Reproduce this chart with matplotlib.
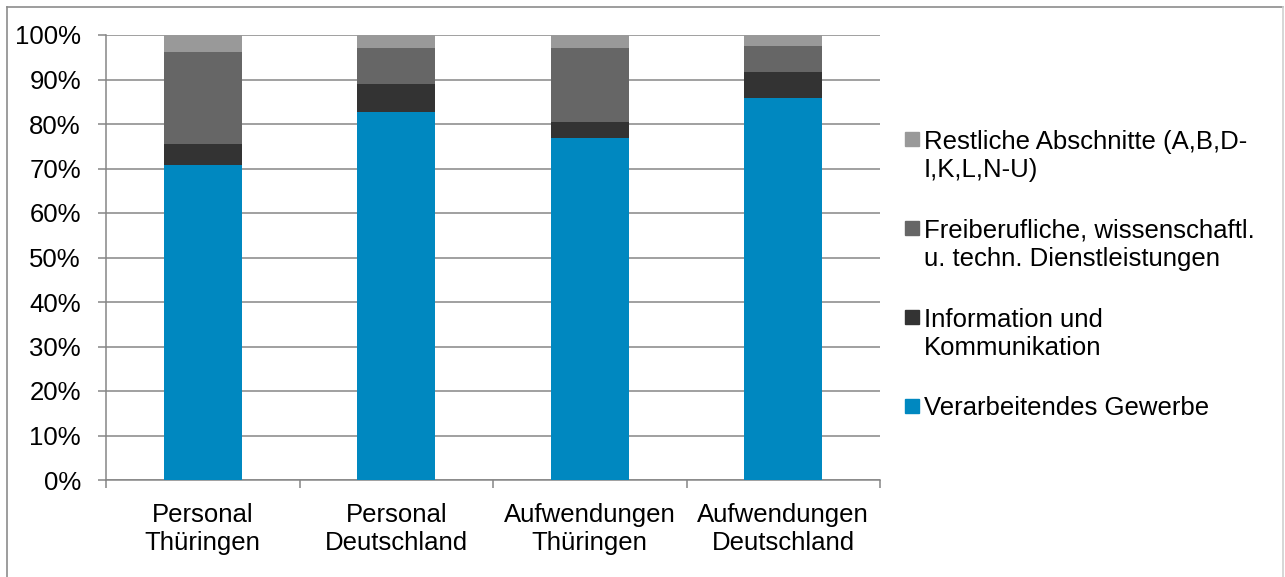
import numpy as np
import matplotlib.pyplot as plt
from matplotlib.patches import Rectangle
from matplotlib.lines import Line2D

plt.rcParams['font.family'] = ['Liberation Sans', 'DejaVu Sans']

categories = ['Personal\nThüringen', 'Personal\nDeutschland',
              'Aufwendungen\nThüringen', 'Aufwendungen\nDeutschland']
series_names = ['Verarbeitendes Gewerbe',
                'Information und\nKommunikation',
                'Freiberufliche, wissenschaftl.\nu. techn. Dienstleistungen',
                'Restliche Abschnitte (A,B,D-\nI,K,L,N-U)']
verarbeitendes = [70.7, 82.6, 76.8, 85.8]
information = [4.7, 6.3, 3.6, 5.9]
freiberufliche = [20.8, 8.2, 16.7, 5.8]
restliche = [3.8, 2.9, 2.9, 2.5]
colors = ['#0088c0', '#333333', '#666666', '#999999']

W, H = 1285, 577
fig = plt.figure(figsize=(W / 100, H / 100), dpi=100)
ax = fig.add_axes([106 / W, 1 - 480 / H, 774 / W, 445 / H])

fs = 18.5
grey = '#868686'
x = np.arange(len(categories))
bottom = np.zeros(len(categories))
for vals, c in zip([verarbeitendes, information, freiberufliche, restliche], colors):
    ax.bar(x, vals, width=0.403, bottom=bottom, color=c, zorder=3)
    bottom += np.array(vals)

ax.set_xlim(-0.5, len(categories) - 0.5)
ax.set_ylim(0, 100)
ax.set_yticks(np.arange(0, 101, 10))
ax.set_yticklabels([f'{v}%' for v in range(0, 101, 10)], fontsize=fs)
ax.yaxis.grid(True, color=grey, lw=1.1, zorder=0)
ax.tick_params(axis='y', length=6, width=1.1, color=grey, pad=12)

ax.set_xticks(x)
ax.set_xticklabels(categories, fontsize=fs, linespacing=1.22)
ax.set_xticks(np.arange(-0.5, len(categories)), minor=True)
ax.tick_params(axis='x', which='major', length=0, pad=16.5)
ax.tick_params(axis='x', which='minor', length=6, width=1.1, color=grey)

for s in ['top', 'right']:
    ax.spines[s].set_visible(False)
for s in ['left', 'bottom']:
    ax.spines[s].set_color(grey)
    ax.spines[s].set_linewidth(1.1)

# legend, reversed order, handle next to first line
step = 29
for k, i in enumerate(range(len(series_names) - 1, -1, -1)):
    yc = 139 + 89 * k
    fig.add_artist(Rectangle((905 / W, 1 - (yc + 7) / H), 14 / W, 14 / H,
                             transform=fig.transFigure, color=colors[i]))
    nl = series_names[i].count('\n')
    fig.text(924 / W, 1 - (yc + 9 + nl * step) / H, series_names[i], fontsize=fs,
             va='baseline', ha='left', linespacing=1.22)

# chart border
fig.add_artist(Line2D([7 / W, 7 / W], [0, 1 - 7 / H], transform=fig.transFigure, color='#8c8c8c', lw=1.2))
fig.add_artist(Line2D([7 / W, 1283 / W], [1 - 7 / H, 1 - 7 / H], transform=fig.transFigure, color='#8c8c8c', lw=1.2))
fig.add_artist(Line2D([1283 / W, 1283 / W], [0, 1 - 7 / H], transform=fig.transFigure, color='#d0d0d0', lw=1.2))

fig.savefig('out.png', dpi=100)
